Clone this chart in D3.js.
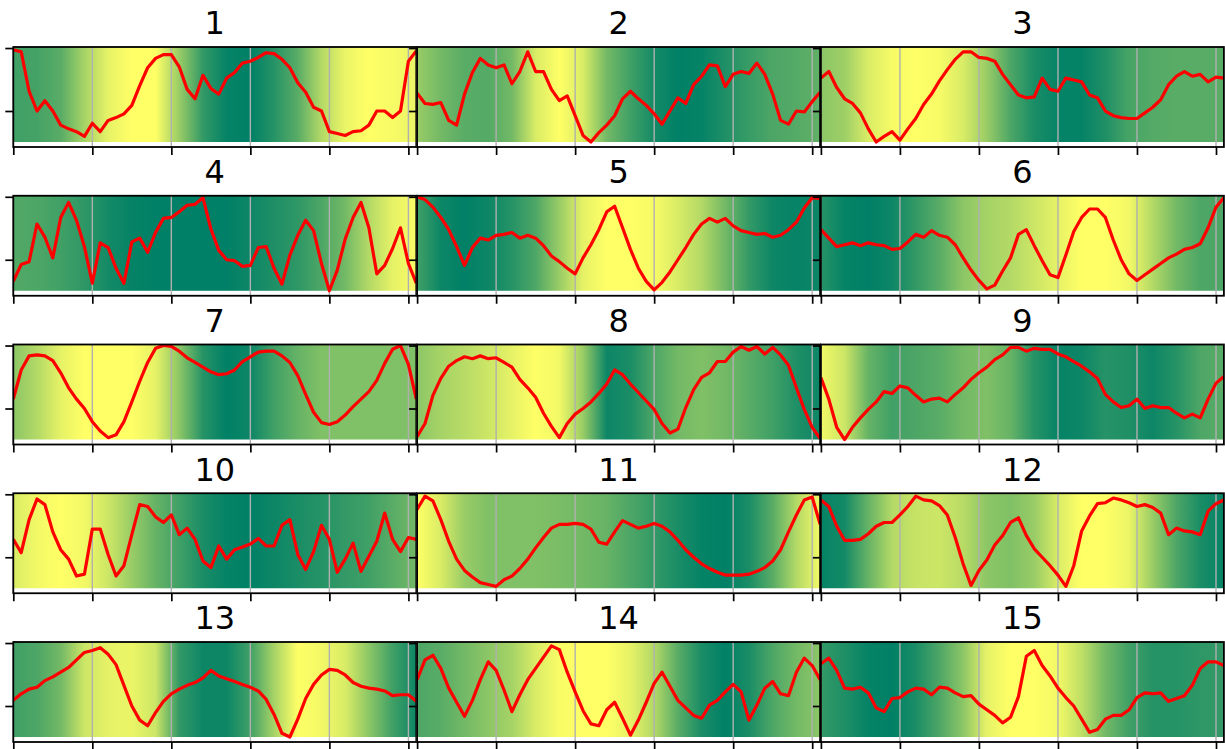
<!DOCTYPE html>
<html>
<head>
<meta charset="utf-8">
<script src="https://cdn.jsdelivr.net/npm/d3@7"></script>
<style>
  body { margin: 0; background: #fff; }
  svg { display: block; }
</style>
</head>
<body>
<svg id="chart" width="1225" height="749"></svg>
<script>
// titres des panneaux
const titles = ["1", "2", "3", "4", "5", "6", "7", "8", "9", "10", "11", "12", "13", "14", "15"];

// courbes rouges, une valeur tous les 5 sur x = 0..255
const line1 = [0.98,0.96,0.54,0.33,0.44,0.33,0.18,0.14,0.11,0.06,0.2,0.11,0.23,0.26,0.3,0.39,0.6,0.79,0.89,0.93,0.93,0.8,0.56,0.46,0.71,0.57,0.51,0.68,0.74,0.84,0.86,0.9,0.95,0.94,0.88,0.79,0.63,0.53,0.37,0.33,0.11,0.09,0.07,0.11,0.12,0.18,0.33,0.33,0.26,0.33,0.86,0.97];
const line2 = [0.52,0.41,0.4,0.42,0.23,0.18,0.51,0.74,0.89,0.82,0.79,0.82,0.62,0.75,0.96,0.75,0.75,0.56,0.44,0.49,0.28,0.07,0.0,0.1,0.18,0.28,0.46,0.54,0.46,0.39,0.3,0.19,0.33,0.47,0.41,0.61,0.7,0.82,0.81,0.59,0.72,0.75,0.73,0.84,0.72,0.51,0.23,0.19,0.33,0.32,0.43,0.53];
const line3 = [0.68,0.75,0.58,0.46,0.41,0.31,0.14,0.0,0.06,0.11,0.02,0.14,0.25,0.4,0.51,0.65,0.77,0.88,0.96,0.96,0.9,0.89,0.86,0.72,0.61,0.5,0.47,0.48,0.68,0.56,0.54,0.68,0.66,0.64,0.5,0.47,0.33,0.28,0.26,0.25,0.25,0.31,0.37,0.45,0.61,0.7,0.75,0.7,0.72,0.64,0.69,0.68];
const line4 = [0.1,0.28,0.31,0.71,0.57,0.35,0.78,0.94,0.75,0.47,0.08,0.51,0.46,0.24,0.08,0.52,0.56,0.41,0.62,0.77,0.78,0.84,0.91,0.92,0.99,0.66,0.43,0.33,0.32,0.26,0.27,0.46,0.47,0.24,0.07,0.38,0.59,0.75,0.64,0.29,0.0,0.22,0.55,0.78,0.94,0.67,0.18,0.27,0.45,0.67,0.29,0.08];
const line5 = [1.0,0.97,0.89,0.78,0.65,0.47,0.27,0.46,0.56,0.54,0.59,0.6,0.62,0.56,0.59,0.56,0.48,0.37,0.31,0.24,0.18,0.35,0.49,0.65,0.84,0.9,0.67,0.44,0.24,0.1,0.01,0.09,0.2,0.33,0.46,0.6,0.71,0.77,0.73,0.77,0.69,0.64,0.62,0.6,0.61,0.57,0.59,0.65,0.73,0.88,0.99,0.98];
const line6 = [0.65,0.56,0.47,0.49,0.51,0.48,0.51,0.49,0.48,0.44,0.45,0.52,0.6,0.57,0.64,0.59,0.57,0.49,0.35,0.22,0.11,0.02,0.06,0.21,0.35,0.6,0.65,0.48,0.32,0.17,0.14,0.38,0.63,0.78,0.87,0.87,0.78,0.54,0.33,0.18,0.11,0.17,0.23,0.29,0.35,0.39,0.44,0.46,0.5,0.67,0.89,0.99];
const line7 = [0.43,0.74,0.89,0.9,0.89,0.84,0.71,0.55,0.43,0.33,0.19,0.09,0.02,0.05,0.19,0.4,0.62,0.82,0.97,1.0,0.99,0.94,0.87,0.82,0.77,0.72,0.69,0.7,0.74,0.83,0.88,0.93,0.94,0.94,0.89,0.82,0.68,0.48,0.29,0.18,0.16,0.19,0.26,0.35,0.43,0.51,0.63,0.81,0.96,1.0,0.8,0.43];
const line8 = [0.03,0.17,0.47,0.65,0.78,0.84,0.88,0.86,0.89,0.86,0.87,0.82,0.77,0.64,0.55,0.45,0.28,0.14,0.02,0.17,0.27,0.33,0.4,0.49,0.59,0.74,0.69,0.59,0.5,0.41,0.32,0.17,0.07,0.11,0.34,0.53,0.66,0.71,0.83,0.83,0.93,0.99,0.95,0.99,0.91,0.98,0.9,0.79,0.55,0.32,0.13,0.01];
const line9 = [0.66,0.43,0.13,0.0,0.13,0.23,0.32,0.4,0.51,0.49,0.57,0.55,0.47,0.4,0.43,0.44,0.4,0.48,0.55,0.64,0.71,0.77,0.85,0.9,0.98,0.98,0.94,0.97,0.96,0.96,0.91,0.88,0.83,0.78,0.72,0.65,0.48,0.4,0.34,0.36,0.43,0.33,0.36,0.34,0.34,0.28,0.23,0.27,0.23,0.43,0.6,0.67];
const line10 = [0.52,0.38,0.73,0.95,0.89,0.6,0.41,0.31,0.13,0.15,0.63,0.63,0.36,0.13,0.24,0.57,0.89,0.87,0.76,0.7,0.78,0.57,0.64,0.52,0.29,0.22,0.45,0.31,0.41,0.44,0.47,0.53,0.45,0.45,0.67,0.73,0.36,0.2,0.39,0.67,0.52,0.17,0.31,0.48,0.18,0.34,0.5,0.8,0.52,0.39,0.54,0.52];
const line11 = [0.84,0.98,0.93,0.73,0.5,0.31,0.19,0.12,0.06,0.04,0.02,0.09,0.13,0.21,0.31,0.43,0.54,0.64,0.68,0.68,0.69,0.68,0.63,0.49,0.47,0.6,0.72,0.68,0.64,0.66,0.69,0.66,0.6,0.51,0.41,0.33,0.26,0.21,0.17,0.14,0.14,0.14,0.15,0.18,0.22,0.29,0.41,0.6,0.78,0.94,0.97,0.68];
const line12 = [0.94,0.87,0.66,0.51,0.51,0.52,0.58,0.66,0.7,0.7,0.78,0.87,0.98,0.94,0.93,0.88,0.78,0.54,0.26,0.03,0.19,0.3,0.46,0.56,0.7,0.75,0.56,0.42,0.33,0.24,0.14,0.02,0.24,0.61,0.77,0.9,0.91,0.96,0.94,0.91,0.87,0.89,0.86,0.8,0.57,0.64,0.61,0.6,0.57,0.82,0.9,0.94];
const line13 = [0.39,0.46,0.51,0.53,0.6,0.64,0.69,0.74,0.82,0.9,0.92,0.95,0.88,0.77,0.55,0.33,0.18,0.12,0.26,0.38,0.46,0.51,0.55,0.58,0.63,0.71,0.65,0.62,0.59,0.56,0.53,0.49,0.4,0.24,0.04,0.0,0.19,0.41,0.56,0.66,0.72,0.71,0.66,0.58,0.54,0.52,0.51,0.49,0.44,0.45,0.45,0.38];
const line14 = [0.61,0.82,0.87,0.73,0.52,0.37,0.22,0.39,0.61,0.8,0.71,0.5,0.27,0.45,0.61,0.73,0.85,0.97,0.93,0.69,0.48,0.28,0.14,0.12,0.29,0.37,0.2,0.02,0.18,0.37,0.57,0.69,0.54,0.39,0.31,0.23,0.2,0.34,0.39,0.48,0.56,0.48,0.18,0.34,0.52,0.59,0.46,0.44,0.69,0.84,0.76,0.61];
const line15 = [0.78,0.84,0.71,0.52,0.51,0.53,0.47,0.31,0.27,0.41,0.42,0.48,0.52,0.51,0.45,0.53,0.52,0.47,0.43,0.44,0.35,0.29,0.23,0.15,0.21,0.43,0.86,0.92,0.76,0.65,0.52,0.42,0.33,0.19,0.05,0.08,0.19,0.23,0.23,0.29,0.42,0.47,0.46,0.47,0.38,0.41,0.44,0.55,0.73,0.8,0.8,0.76];

// fonds en degrade (0 = vert fonce, 1 = jaune), un point tous les 15 sur x
const bg1 = [0.25,0.27,0.35,0.65,0.9,1.0,1.0,0.6,0.2,0.02,0.0,0.15,0.35,0.7,0.92,1.0,0.97,0.92];
const bg2 = [0.6,0.45,0.35,0.33,0.45,0.85,1.0,0.85,0.45,0.25,0.08,0.0,0.02,0.12,0.22,0.3,0.33,0.38];
const bg3 = [0.55,0.62,0.85,0.97,1.0,0.97,0.85,0.6,0.3,0.1,0.02,0.02,0.12,0.28,0.33,0.35,0.35,0.35];
const bg4 = [0.32,0.3,0.25,0.18,0.08,0.02,0.0,0.0,0.0,0.0,0.05,0.12,0.18,0.3,0.45,0.7,0.9,0.98];
const bg5 = [0.25,0.05,0.0,0.05,0.15,0.3,0.6,0.9,1.0,1.0,0.97,0.85,0.7,0.45,0.2,0.05,0.02,0.05];
const bg6 = [0.15,0.02,0.0,0.05,0.2,0.35,0.55,0.65,0.7,0.8,0.9,1.0,1.0,0.95,0.7,0.45,0.3,0.3];
const bg7 = [0.55,0.7,0.9,1.0,1.0,1.0,0.9,0.55,0.15,0.0,0.05,0.25,0.4,0.5,0.5,0.5,0.5,0.5];
const bg8 = [0.55,0.65,0.72,0.8,0.9,1.0,0.95,0.6,0.05,0.1,0.3,0.45,0.5,0.45,0.35,0.25,0.12,0.05];
const bg9 = [0.95,0.8,0.4,0.25,0.3,0.35,0.45,0.5,0.4,0.15,0.02,0.05,0.15,0.12,0.05,0.15,0.3,0.35];
const bg10 = [0.85,0.95,1.0,0.95,0.8,0.6,0.4,0.25,0.1,0.02,0.0,0.05,0.1,0.15,0.2,0.25,0.35,0.45];
const bg11 = [1.0,0.85,0.6,0.5,0.5,0.5,0.48,0.45,0.4,0.3,0.2,0.1,0.02,0.0,0.1,0.35,0.7,0.95];
const bg12 = [0.02,0.08,0.4,0.7,0.78,0.8,0.72,0.55,0.5,0.6,0.85,1.0,1.0,0.92,0.6,0.3,0.1,0.02];
const bg13 = [0.25,0.3,0.45,0.8,0.9,0.92,0.8,0.2,0.05,0.05,0.25,0.65,1.0,0.95,0.85,0.55,0.25,0.05];
const bg14 = [0.3,0.35,0.45,0.55,0.65,0.85,0.98,1.0,1.0,0.9,0.7,0.35,0.1,0.0,0.1,0.3,0.45,0.55];
const bg15 = [0.2,0.12,0.02,0.0,0.1,0.3,0.55,0.9,1.0,1.0,0.95,0.75,0.45,0.25,0.15,0.15,0.18,0.2];

// graduations (sans etiquettes)
const xTicks = [0, 50, 100, 150, 200, 250];
const yTicks = [1, 0.33];

const lines = [line1, line2, line3, line4, line5, line6, line7, line8, line9, line10, line11, line12, line13, line14, line15];
const bgs = [bg1, bg2, bg3, bg4, bg5, bg6, bg7, bg8, bg9, bg10, bg11, bg12, bg13, bg14, bg15];

const svg = d3.select("#chart");
const defs = svg.append("defs");

// taille d'un panneau
const W = 403;
const H = 100;
const colStep = 403.8;
const rowStep = 148.75;

const x = d3.scaleLinear().domain([0, 255]).range([0, W]);
const y = d3.scaleLinear().domain([-0.053, 1.011]).range([H, 0]);

// colormap "summer" de matplotlib
const summer = d3.interpolateRgb("#008066", "#ffff66");

defs.append("clipPath").attr("id", "clip-panel")
    .append("rect").attr("width", W).attr("height", H);

lines.forEach((vals, i) => {
    const col = i % 3;
    const row = Math.floor(i / 3);
    const g = svg.append("g")
        .attr("transform", `translate(${13.3 + col * colStep},${47 + row * rowStep})`);

    // degrade de fond
    const grad = defs.append("linearGradient")
        .attr("id", "grad" + i)
        .attr("x1", 0).attr("x2", 1).attr("y1", 0).attr("y2", 0);
    const bg = bgs[i];
    bg.forEach((t, k) => {
        grad.append("stop")
            .attr("offset", k / (bg.length - 1))
            .attr("stop-color", summer(t));
    });

    g.append("rect")
        .attr("x", x(0))
        .attr("y", y(1.011))
        .attr("width", x(255) - x(0))
        .attr("height", y(0) - y(1.011))
        .attr("fill", `url(#grad${i})`);

    // grille verticale
    g.selectAll(".grid")
        .data(xTicks)
        .enter()
        .append("line")
        .attr("x1", d => x(d)).attr("x2", d => x(d))
        .attr("y1", 0).attr("y2", H)
        .attr("stroke", "#b0b0b0")
        .attr("stroke-width", 1.4);

    // courbe
    const step = 255 / (vals.length - 1);
    const path = d3.line()
        .x((d, k) => x(k * step))
        .y(d => y(d));

    g.append("path")
        .datum(vals)
        .attr("d", path)
        .attr("clip-path", "url(#clip-panel)")
        .attr("fill", "none")
        .attr("stroke", "#ff0000")
        .attr("stroke-width", 3.2)
        .attr("stroke-linejoin", "round");

    // axes
    const xAxis = g.append("g")
        .attr("transform", `translate(0,${H})`)
        .call(d3.axisBottom(x).tickValues(xTicks).tickFormat("").tickSize(8).tickSizeOuter(0));
    const yAxis = g.append("g")
        .call(d3.axisLeft(y).tickValues(yTicks).tickFormat("").tickSize(8).tickSizeOuter(0));
    [xAxis, yAxis].forEach(a => {
        a.select(".domain").remove();
        a.selectAll(".tick line").attr("stroke", "#000").attr("stroke-width", 1.7);
    });

    // cadre
    g.append("rect")
        .attr("width", W).attr("height", H)
        .attr("fill", "none")
        .attr("stroke", "#000")
        .attr("stroke-width", 1.8);

    // titre
    g.append("text")
        .attr("x", W / 2)
        .attr("y", -12.7)
        .attr("text-anchor", "middle")
        .attr("font-family", "DejaVu Sans")
        .attr("font-size", 32)
        .attr("fill", "#000")
        .text(titles[i]);
});
</script>
</body>
</html>
